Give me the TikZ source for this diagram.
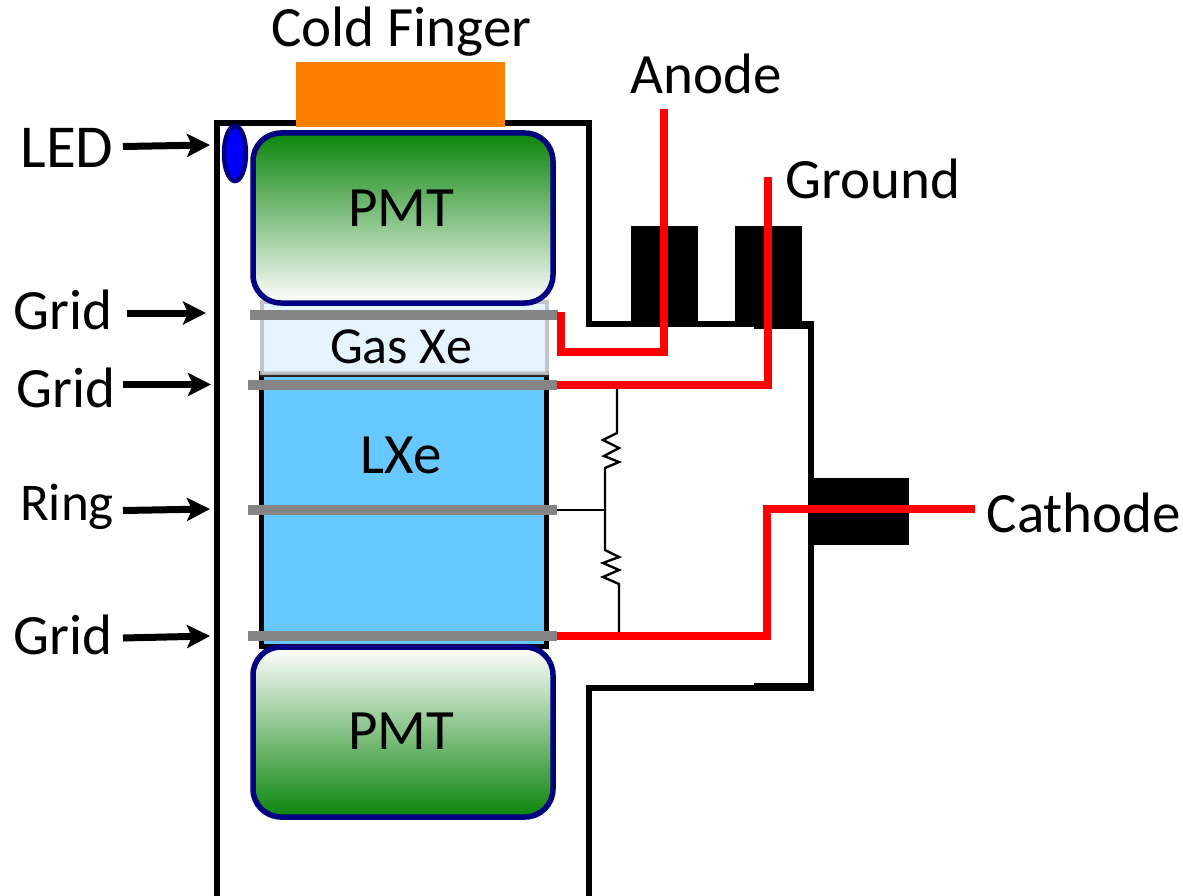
\documentclass[tikz,border=0pt]{standalone}
\usepackage{fontspec}
\setmainfont{Carlito}
\usetikzlibrary{arrows.meta,shapes.geometric}
\definecolor{coldorange}{RGB}{255,128,0}
\definecolor{pmtgreen}{RGB}{10,132,10}
\definecolor{pmtnavy}{RGB}{0,0,128}
\definecolor{gasblue}{RGB}{226,243,254}
\definecolor{lxeblue}{RGB}{102,200,255}
\definecolor{gridgrey}{RGB}{133,133,133}
\tikzset{
    biglabel/.style={font=\fontsize{57}{60}\selectfont, inner sep=0pt},
    pmtbox/.style={draw=pmtnavy, line width=5.5pt, rounded corners=28pt, minimum width=300pt, minimum height=170pt},
    gridbar/.style={fill=gridgrey, inner sep=0pt, minimum height=10pt},
    redwire/.style={draw=red, line width=8pt},
    thinwire/.style={draw=black, line width=2.4pt},
    wall/.style={draw=black, line width=5.5pt},
    feedthru/.style={fill=black, inner sep=0pt},
    pointer/.style={draw=black, line width=7pt, -{Stealth[length=23pt,width=23pt,inset=5pt]}}
}
\begin{document}
\begin{tikzpicture}[x=1pt,y=-1pt]
    \useasboundingbox (0,0) rectangle (1183,896);
    % chamber
    \draw[wall] (217,896) -- (217,123) -- (589,123) -- (589,324) -- (811,324) -- (811,688) -- (589,688) -- (589,896);
    \draw[wall] (754,326) -- (811,326);
    \draw[wall] (754,686) -- (811,686);
    \node[fill=coldorange, minimum width=209pt, minimum height=65pt, inner sep=0pt] (finger) at (400.5,94.5) {};
    \node[biglabel] (fingertext) at (401.5,32) {Cold Finger};
    % xenon volumes
    \node[fill=lxeblue, draw=black, line width=5pt, minimum width=285pt, minimum height=273pt, inner sep=0pt] (lxe) at (404,510) {};
    \node[fill=gasblue, draw=gray!50, opacity=0.9, line width=4pt, minimum width=285pt, minimum height=72pt, inner sep=0pt] (gas) at (404.5,338) {};
    \draw[draw=black!85, line width=2pt] (gas.south west) -- (gas.south east);
    \node[font=\fontsize{52}{55}\selectfont, inner sep=0pt] (gastext) at (401,347) {Gas Xe};
    \node[biglabel] (lxetext) at (401,455) {LXe};
    % pmts
    \node[pmtbox, shade, top color=pmtgreen, bottom color=white] (pmttop) at (403,218) {};
    \node[pmtbox, shade, top color=white, bottom color=pmtgreen] (pmtbot) at (403,732) {};
    \node[biglabel] (pmttoptext) at (401,208) {PMT};
    \node[biglabel] (pmtbottext) at (401,731) {PMT};
    \node[ellipse, draw=pmtnavy, fill=blue, line width=4.5pt, minimum width=22pt, minimum height=55pt, inner sep=0pt] (led) at (235,153.5) {};
    % feedthroughs
    \node[feedthru, minimum width=67pt, minimum height=101pt] (anodefeed) at (664.5,276.5) {};
    \node[feedthru, minimum width=67pt, minimum height=101pt] (groundfeed) at (768.5,276.5) {};
    \node[feedthru, minimum width=101pt, minimum height=67pt] (cathfeed) at (858.5,511) {};
    % grids
    \node[gridbar, minimum width=308pt] (gridone) at (404,315) {};
    \node[gridbar, minimum width=309pt] (gridtwo) at (402.5,385) {};
    \node[gridbar, minimum width=309pt] (ringbar) at (402.5,510) {};
    \node[gridbar, minimum width=309pt] (gridthree) at (402.5,636) {};
    % resistors
    \draw[thinwire] (617,386) -- (617,433) -- (603,440) -- (619,448) -- (604,456) -- (619,462) -- (605,468) -- (605,550) -- (619,557) -- (603,563) -- (619,570) -- (603,577) -- (619,584) -- (619,637);
    \draw[thinwire] (ringbar.east) -- (605,510);
    % wires
    \node[biglabel] (anodetext) at (706.5,74) {Anode};
    \node[biglabel] (groundtext) at (873,179) {Ground};
    \node[biglabel] (cathtext) at (1084,513) {Cathode};
    \coordinate (anodestart) at (561,312);
    \coordinate (anodeend) at (664,109);
    \coordinate (groundend) at (768,177);
    \coordinate (cathend) at (975,509);
    \draw[redwire] (anodestart) -- (561,352) -- (664,352) -- (anodeend);
    \draw[redwire] (gridtwo.east) -- (768,385) -- (groundend);
    \draw[redwire] (gridthree.east) -- (767,636) -- (767,509) -- (cathend);
    % labels
    \node[biglabel, font=\fontsize{61}{64}\selectfont] (ledtext) at (67,148) {LED};
    \node[biglabel] (gridonetext) at (63,310) {Grid};
    \node[biglabel] (gridtwotext) at (66,388) {Grid};
    \node[biglabel, font=\fontsize{53}{56}\selectfont] (ringtext) at (67,507) {Ring};
    \node[biglabel] (gridthreetext) at (63,635) {Grid};
    \coordinate (ledtip) at (210,145);
    \coordinate (gridonetip) at (206,313);
    \coordinate (gridtwotip) at (211,384.5);
    \coordinate (ringtip) at (210,509);
    \coordinate (gridthreetip) at (210,636);
    \draw[pointer] (123,146.5) -- (ledtip);
    \draw[pointer] (127,313) -- (gridonetip);
    \draw[pointer] (123,384.5) -- (gridtwotip);
    \draw[pointer] (123,510.5) -- (ringtip);
    \draw[pointer] (123,638) -- (gridthreetip);
\end{tikzpicture}
\end{document}
